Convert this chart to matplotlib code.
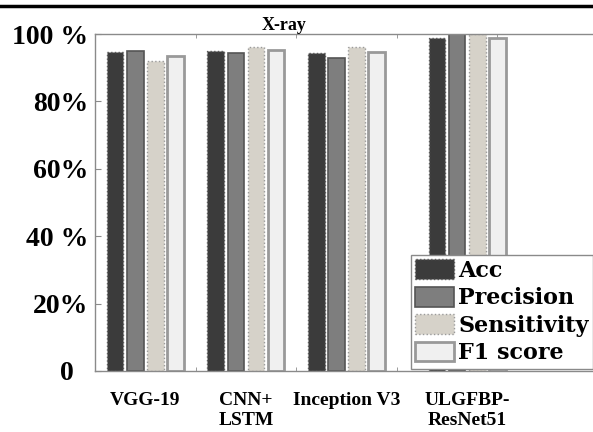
import matplotlib
matplotlib.use("Agg")
import matplotlib.pyplot as plt
from matplotlib.lines import Line2D
import numpy as np

# ---- data ----
models = ["VGG-19", "CNN+\nLSTM", "Inception V3", "ULGFBP-\nResNet51"]
acc = [94.6, 95.0, 94.3, 98.7]
precision = [95.1, 94.5, 93.0, 100.0]
sensitivity = [92.1, 96.2, 96.2, 100.0]
f1_score = [93.5, 95.3, 94.6, 98.7]
series_names = ["Acc", "Precision", "Sensitivity", "F1 score"]
ytick_vals = [0, 20, 40, 60, 80, 100]
ytick_labels = ["0  ", "20%", "40 %", "60%", "80%", "100 %"]
title = "X-ray"

# ---- layout / style ----
group_pos = np.array([0, 1, 2, 3.2])
offsets = [-0.3, -0.1, 0.1, 0.3]
bar_w = 0.165
styles = [
    dict(facecolor="#3b3b3b", edgecolor="#5a5a5a", linewidth=1.0, linestyle=":"),
    dict(facecolor="#7e7e7e", edgecolor="#555555", linewidth=1.2, linestyle="-"),
    dict(facecolor="#d6d2c9", edgecolor="#9a9a9a", linewidth=1.0, linestyle=":"),
    dict(facecolor="#f0f0f0", edgecolor="#999999", linewidth=2.0, linestyle="-"),
]

W, H = 593, 432
fig = plt.figure(figsize=(W / 100, H / 100), dpi=100)
left_px, right_px, top_px, bot_px = 95, 603, 34, 371
ax = fig.add_axes([left_px / W, (H - bot_px) / H,
                   (right_px - left_px) / W, (bot_px - top_px) / H])

series = [acc, precision, sensitivity, f1_score]
handles = []
for vals, off, st, name in zip(series, offsets, styles, series_names):
    b = ax.bar(group_pos + off, vals, width=bar_w, label=name, zorder=2, **st)
    handles.append(b)

ax.set_xlim(-0.5, 4.55)
ax.set_ylim(0, 100)

for sp in ax.spines.values():
    sp.set_color("#8a8a8a")
    sp.set_linewidth(1.0)

serif = "Liberation Serif"
ax.set_yticks(ytick_vals)
ax.set_yticklabels(ytick_labels, fontfamily=serif, fontweight="bold", fontsize=20)
ax.tick_params(axis="y", direction="in", length=4, color="#8a8a8a", pad=5)

ax.set_xticks(group_pos)
ax.set_xticklabels(models, fontfamily=serif, fontweight="bold", fontsize=14,
                   linespacing=1.25)
ax.tick_params(axis="x", length=0, pad=15)
ax.set_xticks([0.5, 1.5, 2.5, 3.5], minor=True)
ax.tick_params(axis="x", which="minor", direction="in", length=3,
               color="#8a8a8a", top=True, bottom=True)

fig.text(284 / W, (H - 30) / H, title, ha="center", va="baseline",
         fontfamily=serif, fontweight="bold", fontsize=13)

leg_fs = 16
leg_px = leg_fs * 100 / 72
leg = fig.legend(handles=handles, loc="upper left",
                 bbox_to_anchor=(411 / W, (H - 255) / H),
                 bbox_transform=fig.transFigure,
                 prop=dict(family="DejaVu Serif", weight="bold", size=leg_fs),
                 handlelength=39 / leg_px, handleheight=22 / leg_px,
                 handletextpad=4 / leg_px, labelspacing=0.22,
                 borderpad=0.2, borderaxespad=0, fancybox=False,
                 framealpha=1, edgecolor="#8a8a8a")
leg.get_frame().set_linewidth(1.0)

fig.add_artist(Line2D([0, 1], [(H - 5.5) / H] * 2, transform=fig.transFigure,
                      color="black", linewidth=2.5))

fig.savefig("out.png", dpi=100)
